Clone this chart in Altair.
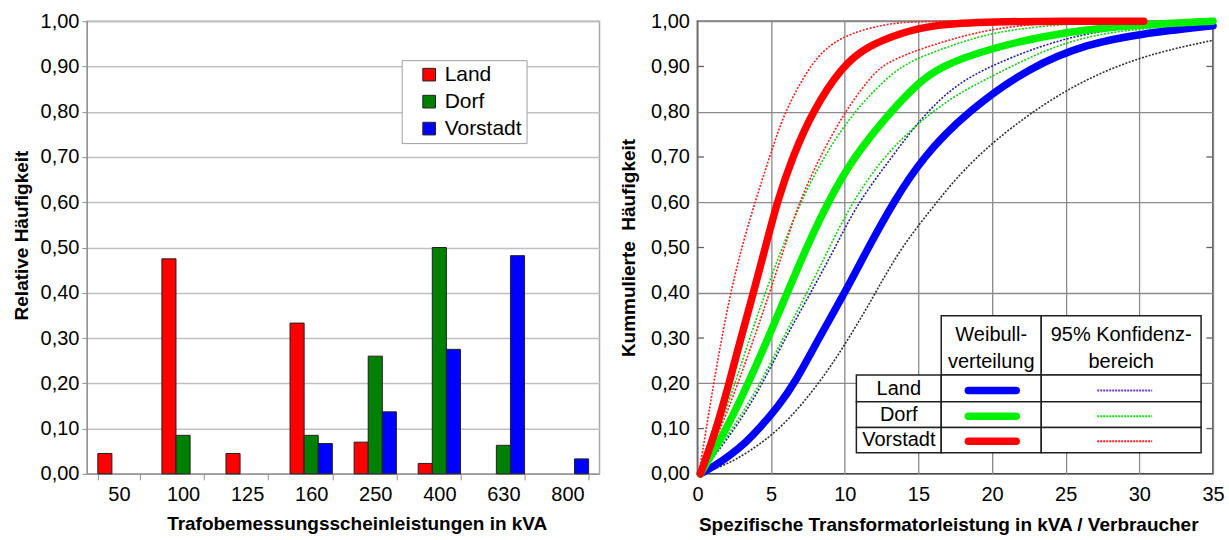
import altair as alt
import pandas as pd

FONT = "Liberation Sans, Arial, sans-serif"

# ---------------- left chart data ----------------
categories = ["50", "100", "125", "160", "250", "400", "630", "800"]
series = ["Land", "Dorf", "Vorstadt"]
land = [0.045, 0.475, 0.045, 0.333, 0.070, 0.023, None, None]
dorf = [None, 0.085, None, 0.085, 0.260, 0.500, 0.063, None]
vorstadt = [None, None, None, 0.067, 0.137, 0.275, 0.482, 0.033]
bar_colors = ["#ff0000", "#008000", "#0000ff"]

# ---------------- right chart data ----------------
land_fit_x = [0.2, 1.2, 2.3, 3.3, 4.2, 5.5, 6.6, 8.25, 10.0, 11.6, 13.3, 15.3, 18.3, 22.6, 26.5, 30, 35]
land_fit_y = [0, 0.018, 0.043, 0.07, 0.10, 0.15, 0.20, 0.30, 0.40, 0.50, 0.60, 0.70, 0.80, 0.90, 0.95, 0.972, 0.99]
dorf_fit_x = [0.2, 2.0, 3.45, 4.8, 6.1, 7.4, 8.85, 10.6, 13.1, 15.0, 16.5, 19.8, 25, 30, 35]
dorf_fit_y = [0, 0.10, 0.20, 0.30, 0.40, 0.50, 0.60, 0.70, 0.80, 0.864, 0.90, 0.94, 0.978, 0.992, 1.0]
vorstadt_fit_x = [0.2, 1.3, 2.15, 2.95, 3.8, 4.61, 5.4, 6.45, 7.8, 9.8, 11.5, 13.8, 16.1, 20, 25, 30.3]
vorstadt_fit_y = [0, 0.10, 0.20, 0.30, 0.40, 0.50, 0.60, 0.70, 0.80, 0.90, 0.944, 0.974, 0.993, 0.999, 1.0, 1.0]

land_hi_x = [0.2, 2.6, 4.45, 5.95, 7.7, 9.35, 10.9, 13.2, 15.2, 17.4, 20, 25, 30, 33, 35]
land_hi_y = [0, 0.10, 0.20, 0.30, 0.40, 0.50, 0.60, 0.70, 0.787, 0.857, 0.904, 0.967, 0.99, 0.998, 1.0]
land_lo_x = [0.2, 1.9, 3.48, 5.7, 8.3, 10.3, 12.1, 13.8, 16.4, 17.4, 20, 25, 30, 35]
land_lo_y = [0, 0.019, 0.048, 0.10, 0.20, 0.30, 0.40, 0.50, 0.606, 0.647, 0.735, 0.853, 0.923, 0.958]
dorf_hi_x = [0.1, 1.5, 2.55, 3.55, 4.6, 5.75, 7.0, 8.55, 10.6, 12.8, 13.9, 15.0, 16.3, 17.6, 20, 23.6, 27.6, 35]
dorf_hi_y = [0, 0.10, 0.20, 0.30, 0.40, 0.50, 0.60, 0.70, 0.80, 0.873, 0.90, 0.919, 0.935, 0.95, 0.975, 0.99, 1.0, 1.0]
dorf_lo_x = [0.2, 2.4, 4.3, 5.8, 7.45, 8.95, 10.5, 12.6, 15.0, 17.4, 20, 25, 30, 35]
dorf_lo_y = [0, 0.10, 0.20, 0.30, 0.40, 0.50, 0.60, 0.70, 0.776, 0.835, 0.879, 0.96, 0.985, 0.995]
vorstadt_hi_x = [0.1, 0.6, 1.1, 1.65, 2.25, 3.0, 3.9, 4.9, 5.9, 7.6, 8.8, 10.4, 12.7, 14.5, 20, 28]
vorstadt_hi_y = [0, 0.10, 0.20, 0.30, 0.40, 0.50, 0.60, 0.70, 0.80, 0.90, 0.944, 0.974, 0.993, 1.0, 1.0, 1.0]
vorstadt_lo_x = [0.1, 1.6, 2.75, 3.85, 4.9, 5.9, 6.9, 8.3, 10.0, 11.66, 12.5, 13.48, 14.8, 17.4, 20, 23.5, 27]
vorstadt_lo_y = [0, 0.10, 0.20, 0.30, 0.40, 0.50, 0.60, 0.70, 0.80, 0.873, 0.90, 0.917, 0.935, 0.962, 0.983, 0.996, 1.0]

# legend table texts
table_rows = ["Land", "Dorf", "Vorstadt"]
head_weibull = ["Weibull-", "verteilung"]
head_konf = ["95% Konfidenz-", "bereich"]

# ---------------- styles / layout ----------------
fit_colors = {"Land": "#0000ff", "Dorf": "#00f000", "Vorstadt": "#ff0000"}
ci_colors = {"Land_hi": "#2020a0", "Land_lo": "#303030", "Dorf_hi": "#10d010", "Dorf_lo": "#10d010",
             "Vorstadt_hi": "#ff2020", "Vorstadt_lo": "#ff2020"}
sample_ci_colors = {"Land": "#6a3be0", "Dorf": "#10e010", "Vorstadt": "#ff2020"}

COLS = [10.79, 16.55, 23.34, 34.19]
HEAD_Y = [0.2185, 0.349]
ROW_Y = [0.2185, 0.159, 0.1026, 0.0464]
ROW_MID = [0.187, 0.130, 0.075]
HEAD_TEXT_Y = [0.307, 0.247]
FIT_SAMPLE = [18.39, 21.64]
CI_SAMPLE = [27.14, 30.87]

# ---------------- left chart ----------------
rows = []
for i, c in enumerate(categories):
    for s, vals in zip(series, [land, dorf, vorstadt]):
        if vals[i] is not None:
            rows.append({"cat": c, "series": s, "value": vals[i]})
bars_df = pd.DataFrame(rows)

ticks01 = [round(i * 0.1, 2) for i in range(11)]
LABEL_EXPR = "replace(format(datum.value, '.2f'), '.', ',')"

left = alt.Chart(bars_df).mark_bar(stroke="#202020", strokeWidth=1).encode(
    x=alt.X("cat:N", sort=categories,
            scale=alt.Scale(domain=categories, paddingInner=0.34, paddingOuter=0.17),
            axis=alt.Axis(title="Trafobemessungsscheinleistungen in kVA", labelAngle=0,
                          tickBand="extent", tickSize=6, tickColor="#909090",
                          domainColor="#909090", grid=False, labelPadding=5, titlePadding=10,
                          titleX=270)),
    xOffset=alt.XOffset("series:N", sort=series,
                        scale=alt.Scale(domain=series, paddingInner=0, paddingOuter=0)),
    y=alt.Y("value:Q", scale=alt.Scale(domain=[0, 1], nice=False),
            axis=alt.Axis(title="Relative Häufigkeit", values=ticks01, labelExpr=LABEL_EXPR,
                          gridColor="#c0c0c0", gridWidth=1.5, tickColor="#909090", tickSize=5,
                          domainColor="#909090", labelPadding=3, titlePadding=9, titleY=214)),
    color=alt.Color("series:N", scale=alt.Scale(domain=series, range=bar_colors),
                    legend=alt.Legend(title=None, orient="none", legendX=315, legendY=39,
                                      symbolType="square", symbolSize=160, symbolOffset=13,
                                      symbolStrokeColor="#202020", symbolStrokeWidth=1,
                                      labelFontSize=21, labelFont=FONT, labelColor="black",
                                      labelExpr="datum.label + '\u00a0\u00a0\u00a0\u00a0\u00a0\u00a0'",
                                      fillColor="white", strokeColor="#a0a0a0",
                                      padding=4, rowPadding=5, labelOffset=5)),
).properties(width=513, height=453, view=alt.ViewBackground(stroke="#a8a8a8", strokeWidth=1.5))

# ---------------- right chart ----------------
line_rows = []
for name, xs, ys in [("Land", land_fit_x, land_fit_y), ("Dorf", dorf_fit_x, dorf_fit_y),
                     ("Vorstadt", vorstadt_fit_x, vorstadt_fit_y)]:
    for i, (a, b) in enumerate(zip(xs, ys)):
        line_rows.append({"curve": name, "x": a, "y": b, "i": i, "col": fit_colors[name]})
fit_df = pd.DataFrame(line_rows)

ci_rows = []
for name, xs, ys in [("Land_hi", land_hi_x, land_hi_y), ("Land_lo", land_lo_x, land_lo_y),
                     ("Dorf_hi", dorf_hi_x, dorf_hi_y), ("Dorf_lo", dorf_lo_x, dorf_lo_y),
                     ("Vorstadt_hi", vorstadt_hi_x, vorstadt_hi_y),
                     ("Vorstadt_lo", vorstadt_lo_x, vorstadt_lo_y)]:
    for i, (a, b) in enumerate(zip(xs, ys)):
        ci_rows.append({"curve": name, "x": a, "y": b, "i": i, "col": ci_colors[name]})
ci_df = pd.DataFrame(ci_rows)

X_AX = alt.Axis(title="Spezifische Transformatorleistung in kVA / Verbraucher",
                values=[0, 5, 10, 15, 20, 25, 30, 35], gridColor="#8a8a8a", gridWidth=1.3,
                ticks=False, domain=False, labelPadding=11, titlePadding=11, labelFlush=False,
                titleX=251)
Y_AX = alt.Axis(title="Kummulierte\u00a0 Häufigkeit", values=ticks01, labelExpr=LABEL_EXPR,
                gridColor="#8a8a8a", gridWidth=1.3,
                gridOpacity={"condition": {"test": "round(datum.value*10) % 2 == 0", "value": 1}, "value": 0},
                ticks=False, domain=False, labelPadding=8, titlePadding=12)
XS = alt.Scale(domain=[0, 35], nice=False)
YS = alt.Scale(domain=[0, 1], nice=False)

def ex(field="x"):
    return alt.X(f"{field}:Q", scale=XS, axis=X_AX)

def ey(field="y"):
    return alt.Y(f"{field}:Q", scale=YS, axis=Y_AX)

ci_layer = alt.Chart(ci_df).mark_line(strokeWidth=1.6, strokeDash=[2, 1.5], interpolate="basis").encode(
    x=ex(), y=ey(), detail="curve:N", order="i:Q", color=alt.Color("col:N", scale=None))
fit_layer = alt.Chart(fit_df).mark_line(strokeWidth=7.5, strokeCap="round", interpolate="basis").encode(
    x=ex(), y=ey(), detail="curve:N", order="i:Q", color=alt.Color("col:N", scale=None))

odd = [0.1, 0.3, 0.5, 0.7, 0.9]
tick_df = pd.DataFrame([{"x": 0, "x2": 0.45, "y": v} for v in odd] +
                       [{"x": 34.55, "x2": 35, "y": v} for v in odd])
tick_layer = alt.Chart(tick_df).mark_rule(color="#606060", strokeWidth=1.3).encode(
    x=ex(), x2="x2:Q", y=ey())

cells = [{"x": COLS[1], "x2": COLS[2], "y": HEAD_Y[0], "y2": HEAD_Y[1]},
         {"x": COLS[2], "x2": COLS[3], "y": HEAD_Y[0], "y2": HEAD_Y[1]}]
for r in range(3):
    for c in range(3):
        cells.append({"x": COLS[c], "x2": COLS[c + 1], "y": ROW_Y[r + 1], "y2": ROW_Y[r]})
cell_layer = alt.Chart(pd.DataFrame(cells)).mark_rect(fill="white", stroke="#202020", strokeWidth=1.5).encode(
    x=ex(), x2="x2:Q", y=ey(), y2="y2:Q")

texts = []
for i, t in enumerate(head_weibull):
    texts.append({"x": (COLS[1] + COLS[2]) / 2, "y": HEAD_TEXT_Y[i], "t": t})
for i, t in enumerate(head_konf):
    texts.append({"x": (COLS[2] + COLS[3]) / 2, "y": HEAD_TEXT_Y[i], "t": t})
for i, t in enumerate(table_rows):
    texts.append({"x": (COLS[0] + COLS[1]) / 2, "y": ROW_MID[i], "t": t})
text_layer = alt.Chart(pd.DataFrame(texts)).mark_text(
    font=FONT, fontSize=20, color="black", align="center", baseline="middle").encode(
    x=ex(), y=ey(), text="t:N")

samp_fit = pd.DataFrame([{"x": FIT_SAMPLE[0], "x2": FIT_SAMPLE[1], "y": ROW_MID[i] - 0.003,
                          "col": fit_colors[n]} for i, n in enumerate(table_rows)])
samp_ci = pd.DataFrame([{"x": CI_SAMPLE[0], "x2": CI_SAMPLE[1], "y": ROW_MID[i] - 0.003,
                         "col": sample_ci_colors[n]} for i, n in enumerate(table_rows)])
samp_fit_layer = alt.Chart(samp_fit).mark_rule(strokeWidth=7.5, strokeCap="round").encode(
    x=ex(), x2="x2:Q", y=ey(), color=alt.Color("col:N", scale=None))
samp_ci_layer = alt.Chart(samp_ci).mark_rule(strokeWidth=2, strokeDash=[2, 1]).encode(
    x=ex(), x2="x2:Q", y=ey(), color=alt.Color("col:N", scale=None))

right = alt.layer(ci_layer, fit_layer, tick_layer, cell_layer, text_layer,
                  samp_fit_layer, samp_ci_layer).properties(
    width=516, height=453, view=alt.ViewBackground(stroke="#303030", strokeWidth=1.5))

chart = alt.hconcat(left, right, spacing=18).resolve_scale(color="independent").properties(
    padding={"left": 11, "top": 5, "right": 0, "bottom": 0}
).configure_axis(
    labelFont=FONT, labelFontSize=20, labelColor="black",
    titleFont=FONT, titleFontSize=19, titleFontWeight="bold", titleColor="black"
).configure_view(stroke="#a8a8a8")

chart.save("out.html", embed_options={"renderer": "svg", "actions": False})
